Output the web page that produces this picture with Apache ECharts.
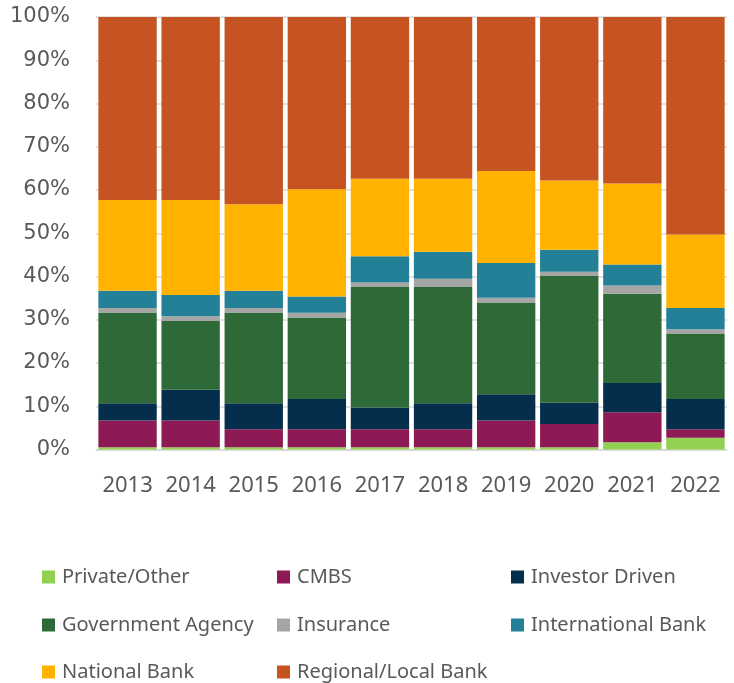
<!DOCTYPE html>
<html>
<head>
<meta charset="utf-8">
<script src="https://cdn.jsdelivr.net/npm/echarts@6/dist/echarts.min.js"></script>
<style>
html,body{margin:0;padding:0;background:#fff;}
#chart{width:734px;height:683px;}
</style>
</head>
<body>
<div id="chart"></div>
<script>
const years = ['2013','2014','2015','2016','2017','2018','2019','2020','2021','2022'];
const yTicks = [0,10,20,30,40,50,60,70,80,90,100];
const privateOther = [0.5,0.5,0.5,0.5,0.5,0.5,0.5,0.5,1.7,2.7];
const cmbs = [6.2,6.2,4.2,4.2,4.2,4.2,6.2,5.4,6.9,2.0];
const investorDriven = [4.0,7.1,6.0,7.0,5.0,6.0,6.1,4.9,6.8,7.0];
const governmentAgency = [21.0,15.9,21.0,18.8,27.9,26.9,21.2,29.3,20.6,15.0];
const insurance = [1.0,1.1,1.0,1.1,1.0,1.9,1.1,1.0,1.9,1.1];
const internationalBank = [4.0,4.9,4.0,3.8,6.1,6.2,8.0,5.1,4.9,4.9];
const nationalBank = [21.0,22.0,20.0,24.8,17.9,16.9,21.3,16.0,18.7,17.0];
const regionalLocalBank = [42.3,42.3,43.3,39.8,37.4,37.4,35.6,37.8,38.5,50.3];

const seriesDefs = [
  ['Private/Other', privateOther, '#92d050'],
  ['CMBS', cmbs, '#8e1a55'],
  ['Investor Driven', investorDriven, '#042e4c'],
  ['Government Agency', governmentAgency, '#2e6a37'],
  ['Insurance', insurance, '#a5a5a5'],
  ['International Bank', internationalBank, '#238096'],
  ['National Bank', nationalBank, '#ffb300'],
  ['Regional/Local Bank', regionalLocalBank, '#c55422']
];

// legend grid: [name, column, row]
const legendSlots = [
  ['Private/Other',0,0],['CMBS',1,0],['Investor Driven',2,0],
  ['Government Agency',0,1],['Insurance',1,1],['International Bank',2,1],
  ['National Bank',0,2],['Regional/Local Bank',1,2]
];
const legendColX = [42, 277, 511];
const legendRowY = [565, 613, 660];

const FONT = 'Noto Sans';
const chart = echarts.init(document.getElementById('chart'), null, {renderer:'canvas'});

chart.setOption({
  animation:false,
  color: seriesDefs.map(d=>d[2]),
  grid:{left:96, right:7, top:17, bottom:233.5, containLabel:false},
  legend: legendSlots.map(s=>({
    left:legendColX[s[1]], top:legendRowY[s[2]], padding:0,
    itemWidth:13, itemHeight:13, icon:'rect',
    data:[s[0]],
    textStyle:{fontFamily:FONT, fontSize:20, color:'#595959', lineHeight:24, padding:[0,0,0,2]}
  })),
  xAxis:{
    type:'category', data:years,
    axisLine:{show:true, lineStyle:{color:'#d9d9d9', width:1.5}},
    axisTick:{show:false},
    axisLabel:{interval:0, hideOverlap:false, fontFamily:FONT, fontSize:22, color:'#595959', margin:25}
  },
  yAxis:{
    type:'value', min:yTicks[0], max:yTicks[yTicks.length-1], interval:10,
    axisLine:{show:false}, axisTick:{show:false},
    splitLine:{lineStyle:{color:'#d9d9d9', width:1.5}},
    axisLabel:{fontFamily:'DejaVu Sans', fontSize:21, color:'#595959', margin:26, formatter:'{value}%'}
  },
  series: seriesDefs.map(d=>({
    name:d[0], type:'bar', stack:'total', data:d[1],
    barCategoryGap:'7.5%',
    itemStyle:{color:d[2]}
  }))
});
</script>
</body>
</html>
